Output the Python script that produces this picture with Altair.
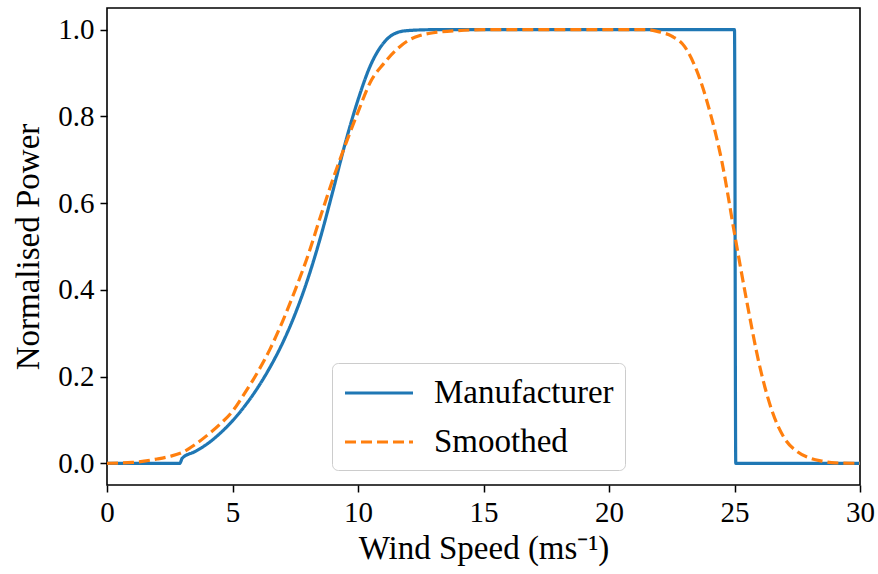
import altair as alt
import pandas as pd

manu_x = [0, 1, 2, 2.9, 3.0, 3.5, 4, 4.5, 5, 5.5, 6, 6.5, 7, 7.5, 8, 8.5, 9, 9.5,
          10, 10.5, 11, 11.5, 12, 13, 15, 20, 25.0, 25.05, 27, 30]
manu_y = [0, 0, 0, 0, 0.012, 0.027, 0.045, 0.069, 0.098, 0.133, 0.174, 0.222, 0.278,
          0.345, 0.425, 0.52, 0.628, 0.74, 0.838, 0.918, 0.968, 0.992, 0.998, 1.0, 1.0,
          1.0, 1.0, 0.0, 0.0, 0.0]

smooth_x = [0, 1, 2, 2.5, 3, 3.5, 4, 4.5, 5, 5.5, 6, 6.5, 7, 7.5, 8, 8.5, 9, 9.5, 10,
            10.5, 11, 11.5, 12, 12.5, 13, 14, 15, 20, 21.5, 22, 22.5, 23, 23.5, 24,
            24.5, 25, 25.5, 26, 26.5, 27, 27.5, 28, 28.5, 29, 30]
smooth_y = [0, 0.002, 0.01, 0.016, 0.025, 0.043, 0.065, 0.09, 0.12, 0.163, 0.21, 0.264,
            0.328, 0.40, 0.478, 0.568, 0.655, 0.735, 0.81, 0.88, 0.92, 0.952, 0.975,
            0.987, 0.993, 0.998, 1.0, 1.0, 1.0, 0.995, 0.985, 0.962, 0.905, 0.815,
            0.695, 0.53, 0.37, 0.225, 0.12, 0.057, 0.027, 0.012, 0.005, 0.001, 0]

series_names = ["Manufacturer", "Smoothed"]
series_colors = ["#1f77b4", "#ff7f0e"]
x_ticks = [0, 5, 10, 15, 20, 25, 30]
y_ticks = [0.0, 0.2, 0.4, 0.6, 0.8, 1.0]

rows = []
for i, (x, y) in enumerate(zip(manu_x, manu_y)):
    rows.append({"speed": x, "power": y, "series": series_names[0], "idx": i})
for i, (x, y) in enumerate(zip(smooth_x, smooth_y)):
    rows.append({"speed": x, "power": y, "series": series_names[1], "idx": i})
df = pd.DataFrame(rows)

FONT = "Liberation Serif"

legend = alt.Legend(orient="none", legendX=225, legendY=355)

chart = alt.Chart(df).mark_line(strokeWidth=3.2, interpolate="monotone").encode(
    x=alt.X("speed:Q", title="Wind Speed (ms⁻¹)",
            scale=alt.Scale(domain=[0, 30], nice=False, zero=False),
            axis=alt.Axis(values=x_ticks, format="d", titlePadding=5, labelPadding=6,
                          labelFlush=False)),
    y=alt.Y("power:Q", title="Normalised Power",
            scale=alt.Scale(domain=[-0.05, 1.05], nice=False, zero=False),
            axis=alt.Axis(values=y_ticks, format=".1f", titlePadding=12, labelPadding=6)),
    color=alt.Color("series:N", title=None,
                    scale=alt.Scale(domain=series_names, range=series_colors),
                    legend=legend),
    strokeDash=alt.StrokeDash("series:N", title=None,
                              scale=alt.Scale(domain=series_names, range=[[1, 0], [11, 5]]),
                              legend=legend),
    order="idx:Q",
).properties(
    width=753, height=477,
    autosize=alt.AutoSizeParams(type="none"),
    padding={"left": 107, "top": 8, "right": 18, "bottom": 89},
).configure_view(
    stroke="#000000", strokeWidth=1.6
).configure_axis(
    domain=False, grid=False, ticks=True, tickColor="#000000", tickWidth=1.5, tickSize=7,
    labelFont=FONT, labelFontSize=29, labelColor="#000000",
    titleFont=FONT, titleFontSize=33, titleFontWeight="normal", titleColor="#000000",
).configure_legend(
    labelFont=FONT, labelFontSize=33, labelColor="#000000",
    symbolType="M-2,0H2", symbolSize=1156, symbolStrokeWidth=3.2, symbolOffset=17,
    labelOffset=36, rowPadding=13, padding=11,
    strokeColor="#cccccc", fillColor="rgba(255,255,255,0.8)", cornerRadius=6,
    labelLimit=400,
)

chart.save("out.html", embed_options={"renderer": "svg", "actions": False})
